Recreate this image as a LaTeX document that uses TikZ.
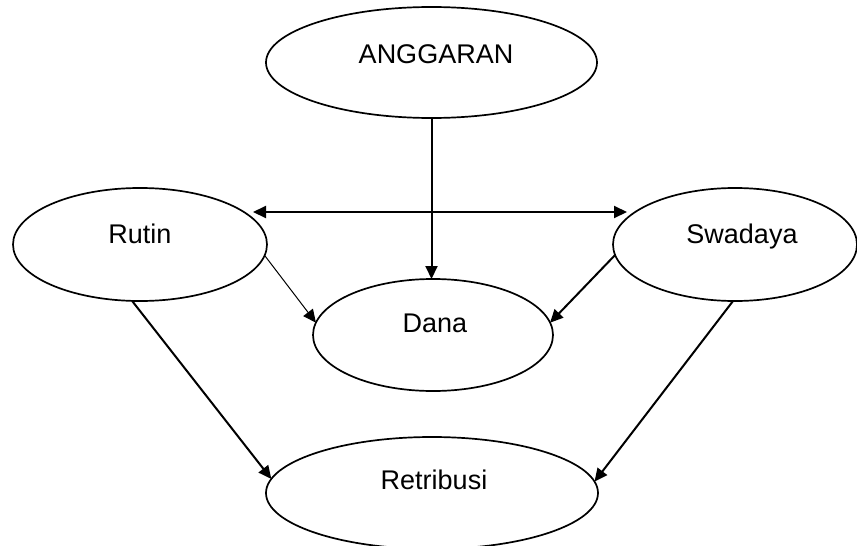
\documentclass[tikz,border=0pt]{standalone}
\usepackage{fontspec}
\setmainfont{Liberation Sans}
\usetikzlibrary{shapes.geometric,arrows.meta}

\tikzset{
  oval/.style={ellipse, draw=black, line width=1.7pt, inner sep=0pt, outer sep=0pt},
  lbl/.style={anchor=base, inner sep=0pt, font=\fontsize{27}{32}\selectfont},
  tip/.style={Triangle[length=13pt,width=12pt]},
  link/.style={line width=2pt, -{Triangle[length=13pt,width=12pt]}},
  thinlink/.style={line width=1pt, -{Triangle[length=13pt,width=12pt]}},
}

\begin{document}
\begin{tikzpicture}[x=1pt, y=-1pt]
  \useasboundingbox (0,0) rectangle (857,546);

  % ellipses
  \node[oval, minimum width=331pt, minimum height=111pt] (ang)  at (431.5,62.5) {};
  \node[oval, minimum width=254pt, minimum height=113pt] (rut)  at (140,244.5) {};
  \node[oval, minimum width=244pt, minimum height=113pt] (swa)  at (735,244.5) {};
  \node[oval, minimum width=240pt, minimum height=112pt] (dana) at (433,335) {};
  \node[oval, minimum width=332pt, minimum height=112pt] (ret)  at (432,493) {};

  % labels
  \node[lbl] (tang)  at (436,63)  {ANGGARAN};
  \node[lbl] (trut)  at (140,243) {Rutin};
  \node[lbl] (tswa)  at (742,243) {Swadaya};
  \node[lbl] (tdana) at (435,332) {Dana};
  \node[lbl] (tret)  at (434,489) {Retribusi};

  % connectors
  \draw[link] (ang.south) -- (ang.south |- dana.north);

  \coordinate (hl) at (253,212);
  \coordinate (hr) at (627,212);
  \draw[line width=2pt, {Triangle[length=13pt,width=12pt]}-{Triangle[length=13pt,width=12pt]}] (hl) -- (hr);

  \draw[thinlink] (rut.-5)   -- (dana.174);
  \draw[link]     (swa.185)  -- (dana.6);
  \draw[link]     (rut.262)  -- (ret.175);
  \draw[link]     (swa.268)  -- (ret.4.5);
\end{tikzpicture}
\end{document}
